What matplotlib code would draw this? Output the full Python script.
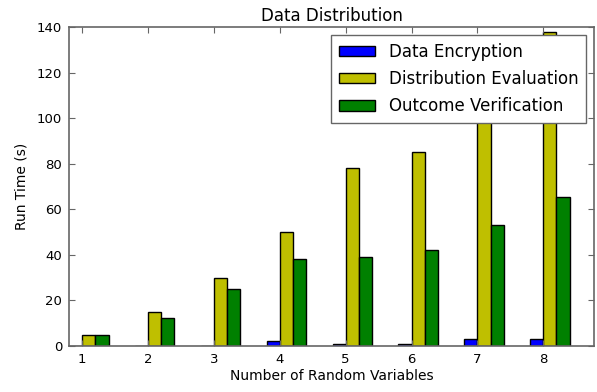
import matplotlib
matplotlib.use("Agg")
import matplotlib.pyplot as plt
import numpy as np

# Tiempos de ejecucion por numero de variables aleatorias
variables = [1, 2, 3, 4, 5, 6, 7, 8]
data_encryption = [0, 0, 0, 2, 1, 1, 3, 3]
distribution_evaluation = [5, 15, 30, 50, 78, 85, 108, 138]
outcome_verification = [5, 12.5, 25, 38, 39, 42, 53, 65.5]

fig = plt.figure(figsize=(5.97, 3.92), dpi=100)
ax = fig.add_axes([0.1156, 0.1173, 0.8794, 0.8137])

x = np.array(variables)
w = 0.2
ax.bar(x - w, data_encryption, w, align='edge', color='b', edgecolor='k',
       linewidth=1, label='Data Encryption')
ax.bar(x, distribution_evaluation, w, align='edge', color='y', edgecolor='k',
       linewidth=1, label='Distribution Evaluation')
ax.bar(x + w, outcome_verification, w, align='edge', color='g', edgecolor='k',
       linewidth=1, label='Outcome Verification')

ax.set_xlim(0.8, 8.77)
ax.set_ylim(0, 140)
ax.set_xticks(variables)
ax.set_yticks(range(0, 141, 20))
ax.tick_params(direction='in', top=True, right=True, labelsize=9.5, length=4,
               color='0.4', pad=5)
for s in ax.spines.values():
    s.set_color('0.4')
    s.set_linewidth(1.2)

ax.set_title('Data Distribution', fontsize=12, pad=4)
ax.set_xlabel('Number of Random Variables', fontsize=10, labelpad=2)
ax.set_ylabel('Run Time (s)', fontsize=10, labelpad=6)

leg = ax.legend(loc='upper right', fontsize=12, fancybox=False,
                borderaxespad=0.5, handlelength=2.2, handleheight=0.6,
                labelspacing=0.55, borderpad=0.45, framealpha=1)
leg.get_frame().set_edgecolor('0.4')

fig.savefig('out.png', dpi=100)
